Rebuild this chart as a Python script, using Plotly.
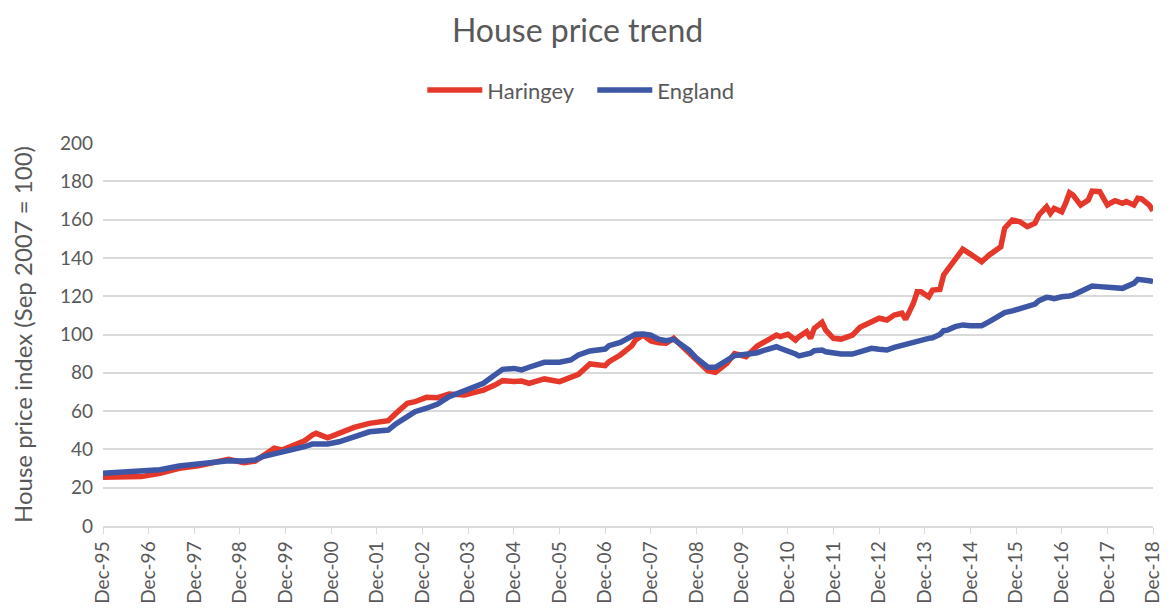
import plotly.graph_objects as go
import pandas as pd

month_offsets = [0, 4, 10, 15, 20, 25, 31, 33, 37, 40, 42, 45, 47, 50, 53,
                 55, 56, 59, 62, 66, 70, 75, 77, 80, 82, 85, 88, 91, 95, 98, 100,
                 103, 105, 108, 110, 112, 116, 120, 123, 125, 128, 132, 133, 136,
                 139, 140, 142, 144, 146, 148, 150, 152, 154, 156, 159, 161, 164,
                 166, 169, 172, 174, 176, 177, 178, 180, 182, 183, 185, 186, 187,
                 189, 190, 192, 194, 197, 199, 202, 204, 206, 208, 210, 211, 213,
                 214, 215, 217, 218, 220, 221, 222, 224, 226, 228, 231, 233, 236,
                 237, 239, 241, 243, 245, 246, 248, 249, 250, 252, 253, 254, 255,
                 257, 259, 260, 262, 264, 265, 266, 268, 269, 271, 272, 273, 275, 276]

haringey = [25.4, 25.4, 25.8, 27.5, 30.1, 31.5, 34.3, 34.8, 33.1, 33.9, 36.6, 40.6, 39.7, 42.3, 44.5,
            47.5, 48.4, 46.1, 48.4, 51.5, 53.6, 55.0, 58.8, 64.1, 64.9, 67.2, 67.0, 68.9, 68.4, 69.6, 71.0,
            73.6, 75.9, 75.4, 75.7, 74.5, 76.8, 75.4, 78.0, 79.2, 84.6, 83.7, 85.8, 89.3,
            94.0, 97.1, 99.7, 96.6, 95.7, 95.4, 98.0, 94.0, 90.2, 86.7, 81.1, 80.3, 85.0,
            90.0, 88.4, 94.0, 96.3, 98.9, 99.7, 98.9, 100.1, 97.1, 98.9, 101.5, 98.0, 103.2,
            106.4, 102.3, 98.0, 97.6, 99.7, 103.8, 106.7, 108.5, 107.6, 110.2, 111.1, 107.9, 116.3,
            122.3, 122.3, 119.7, 123.2, 123.5, 131.1, 133.7, 139.8, 144.5, 142.0, 138.0, 141.5, 145.8,
            155.5, 159.8, 158.9, 156.3, 158.1, 162.4, 166.7, 163.3, 165.9, 164.1, 168.5, 174.0, 172.8,
            167.6, 170.2, 174.9, 174.6, 167.6, 168.8, 169.9, 168.5, 169.4, 167.6, 171.1, 170.8, 167.6, 164.6]

england = [27.5, 28.0, 28.5, 29.4, 31.3, 32.4, 33.9, 34.1, 33.9, 34.5, 36.2, 37.6, 38.5, 39.3, 41.4,
           42.8, 42.8, 42.8, 44.0, 46.6, 49.2, 50.1, 53.3, 57.1, 59.7, 61.5, 63.7, 67.5, 70.7, 72.7, 74.5,
           78.9, 81.8, 82.3, 81.5, 82.9, 85.5, 85.5, 86.7, 89.3, 91.4, 92.4, 94.2, 95.9,
           98.9, 100.1, 100.3, 99.7, 97.5, 96.8, 97.5, 94.5, 91.9, 87.6, 82.9, 82.9, 86.7,
           89.0, 89.7, 90.5, 91.9, 92.8, 93.6, 92.8, 91.5, 89.8, 88.8, 89.3, 90.2, 91.5,
           91.9, 91.0, 90.2, 89.8, 89.8, 91.0, 92.8, 92.3, 91.9, 93.3, 94.5, 94.9, 96.3,
           96.3, 97.1, 98.0, 98.3, 100.0, 102.0, 102.3, 104.1, 105.0, 104.6, 104.6, 106.7, 110.2,
           111.4, 112.3, 113.7, 114.9, 115.9, 117.7, 119.4, 119.2, 118.7, 119.7, 119.7, 120.1, 120.6,
           122.3, 124.1, 125.3, 125.0, 124.6, 124.6, 124.1, 124.1, 125.0, 126.7, 128.8, 128.8, 128.1, 127.6]

dates = [pd.Timestamp("1995-12-01") + pd.DateOffset(months=m) for m in month_offsets]

TEXT = "#595959"
FONT = "Lato"

fig = go.Figure()
fig.add_trace(go.Scatter(x=dates, y=haringey, mode="lines", name="Haringey",
                         line=dict(color="#E5382A", width=5.5)))
fig.add_trace(go.Scatter(x=dates, y=england, mode="lines", name="England",
                         line=dict(color="#3D56A6", width=5.5)))

# the page adds an 8px body margin, so the figure is 8px smaller and margins shifted
fig.update_layout(
    width=1160, height=602,
    margin=dict(l=95, r=15, t=135, b=84, autoexpand=False),
    paper_bgcolor="white", plot_bgcolor="white",
    font=dict(family=FONT, color=TEXT, size=19),
    title=dict(text="House price trend", x=0.491, xanchor="center", y=0.9615, yanchor="middle",
               yref="container", font=dict(family=FONT, size=32, color=TEXT)),
    legend=dict(orientation="h", x=0.466, xanchor="center", y=1.138, yanchor="middle",
                font=dict(family=FONT, size=22, color=TEXT), itemwidth=55,
                entrywidth=100, entrywidthmode="pixels"),
    showlegend=True,
)
fig.update_xaxes(
    type="date", range=["1995-12-01", "2018-12-01"], automargin=False,
    tick0="1995-12-01", dtick="M12", tickformat="%b-%y", tickangle=-90,
    showgrid=False, showline=True, linecolor="#d9d9d9", linewidth=1.5,
    ticks="outside", ticklen=6, tickcolor="#d9d9d9",
    tickfont=dict(family=FONT, size=19, color=TEXT),
)
fig.update_yaxes(
    range=[0, 200], dtick=20, showgrid=True, gridcolor="#d9d9d9", gridwidth=1.5,
    zeroline=False, showline=False, automargin=False, ticklabelstandoff=9,
    tickfont=dict(family=FONT, size=19, color=TEXT),
    title=dict(text="House price index (Sep 2007 = 100)", font=dict(family=FONT, size=24, color=TEXT),
               standoff=36),
)

fig.write_html("out.html")
